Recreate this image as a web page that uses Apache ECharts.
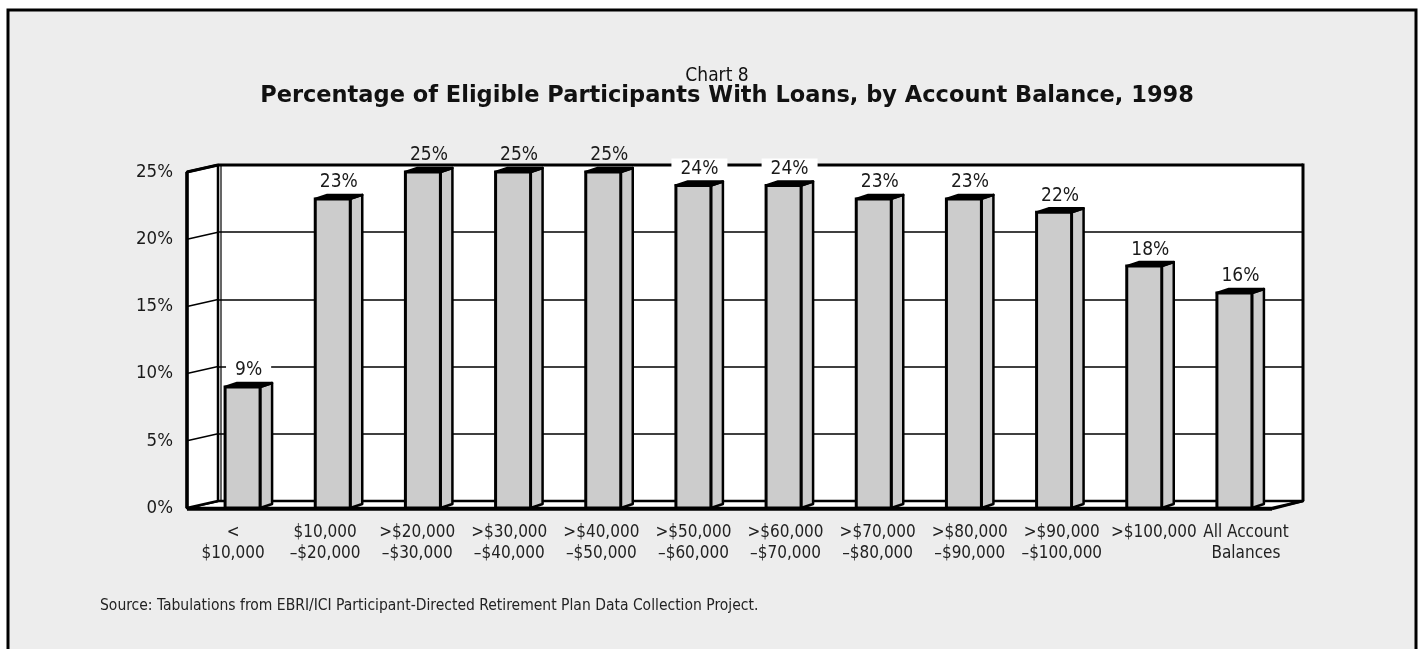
<!DOCTYPE html>
<html>
<head>
<meta charset="utf-8">
<script src="https://cdn.jsdelivr.net/npm/echarts@6/dist/echarts.min.js"></script>
<style>
html,body{margin:0;padding:0;background:#fff;}
#chart{width:1421px;height:649px;}
</style>
</head>
<body>
<div id="chart"></div>
<script>
// ---- data ----
const categories = [
  '<\n$10,000',
  '$10,000\n\u2013$20,000',
  '>$20,000\n\u2013$30,000',
  '>$30,000\n\u2013$40,000',
  '>$40,000\n\u2013$50,000',
  '>$50,000\n\u2013$60,000',
  '>$60,000\n\u2013$70,000',
  '>$70,000\n\u2013$80,000',
  '>$80,000\n\u2013$90,000',
  '>$90,000\n\u2013$100,000',
  '>$100,000',
  'All Account\nBalances'
];
const values = [9, 23, 25, 25, 25, 24, 24, 23, 23, 22, 18, 16];
const yTicks = [0, 5, 10, 15, 20, 25];
const chartLabel = 'Chart 8';
const chartTitle = 'Percentage of Eligible Participants With Loans, by Account Balance, 1998';
const sourceText = 'Source: Tabulations from EBRI/ICI Participant-Directed Retirement Plan Data Collection Project.';

// ---- layout ----
const NARROW = '"Liberation Sans Narrow", "DejaVu Sans Condensed", "Arial Narrow", sans-serif';
const FRONT = {left: 187, top: 172, width: 1082, height: 336};
const LABELS = {left: 187, top: 172, width: 1105, height: 336};
const BACK = {left: 218, top: 165, width: 1085, height: 336};
const yMin = yTicks[0], yMax = yTicks[yTicks.length - 1], yStep = yTicks[1] - yTicks[0];

const chart = echarts.init(document.getElementById('chart'), null, {renderer: 'canvas'});

const option = {
  backgroundColor: '#ffffff',
  animation: false,
  title: [
    {text: chartLabel, left: 712, top: 62, textAlign: 'center',
     textStyle: {fontFamily: NARROW, fontSize: 19, fontWeight: 'normal', color: '#111'}},
    {text: chartTitle, left: 722, top: 80, textAlign: 'center',
     textStyle: {fontFamily: '"DejaVu Sans", Verdana, sans-serif', fontSize: 22.5, fontWeight: 'bold', color: '#111'}},
    {text: sourceText, left: 95, top: 593,
     textStyle: {fontFamily: NARROW, fontSize: 15.5, fontWeight: 'normal', color: '#222'}}
  ],
  grid: [
    Object.assign({show: true, backgroundColor: '#ffffff', borderWidth: 0, containLabel: false}, BACK),
    Object.assign({show: false, containLabel: false}, FRONT),
    Object.assign({show: false, containLabel: false}, LABELS)
  ],
  xAxis: [
    {type: 'category', gridIndex: 0, data: categories, show: false},
    {type: 'category', gridIndex: 1, data: categories, show: false},
    {type: 'category', gridIndex: 2, data: categories,
     axisLine: {show: false}, axisTick: {show: false}, splitLine: {show: false},
     axisLabel: {interval: 0, margin: 14, fontFamily: NARROW, fontSize: 17, lineHeight: 21, color: '#222'}}
  ],
  yAxis: [
    {type: 'value', gridIndex: 0, min: yMin, max: yMax, interval: yStep,
     axisLine: {show: false}, axisTick: {show: false}, axisLabel: {show: false},
     splitLine: {show: true, lineStyle: {color: '#000', width: 1.5}}},
    {type: 'value', gridIndex: 1, min: yMin, max: yMax, interval: yStep,
     axisLine: {show: false}, axisTick: {show: false}, splitLine: {show: false},
     axisLabel: {formatter: '{value}%', margin: 14, fontFamily: NARROW, fontSize: 18.5, color: '#1a1a1a'}},
    {type: 'value', gridIndex: 2, min: yMin, max: yMax, show: false}
  ],
  series: [{
    type: 'custom',
    xAxisIndex: 1,
    yAxisIndex: 1,
    z: 5,
    data: values.map((v, i) => [i, v]),
    renderItem: function (params, api) {
      const v = api.value(1);
      const top = api.coord([api.value(0), v]);
      const base = api.coord([api.value(0), 0]);
      const x0 = top[0] - 7, fw = 35, sw = 12, dy = 4;
      const yT = top[1], yB = base[1];
      const stroke = '#000';
      return {
        type: 'group',
        children: [
          {type: 'polygon', z2: 1,
           shape: {points: [[x0 + fw, yT], [x0 + fw + sw, yT - dy], [x0 + fw + sw, yB - dy], [x0 + fw, yB]]},
           style: {fill: '#cccccc', stroke: stroke, lineWidth: 2.5, lineJoin: 'round'}},
          {type: 'polygon', z2: 2,
           shape: {points: [[x0, yT], [x0 + sw, yT - dy], [x0 + fw + sw, yT - dy], [x0 + fw, yT]]},
           style: {fill: '#000', stroke: stroke, lineWidth: 2.5, lineJoin: 'round'}},
          {type: 'rect', z2: 3,
           shape: {x: x0, y: yT, width: fw, height: yB - yT},
           style: {fill: '#cccccc', stroke: stroke, lineWidth: 3}},
          {type: 'text', z2: 10,
           style: {
             text: v + '%', x: x0 + (fw + sw) / 2, y: yT - dy - 2,
             align: 'center', verticalAlign: 'bottom',
             fontFamily: NARROW, fontSize: 19, fill: '#1a1a1a',
             backgroundColor: v < yMax ? '#ffffff' : 'transparent',
             padding: [1, 9, 1, 9]
           }}
        ]
      };
    }
  }]
};
chart.setOption(option);

// ---- decorations: frame, walls and floor, positioned through the axes ----
const yF = v => chart.convertToPixel({yAxisIndex: 1}, v);
const yBk = v => chart.convertToPixel({yAxisIndex: 0}, v);
const fL = FRONT.left, fR = FRONT.left + FRONT.width + 3;
const bL = BACK.left, bR = BACK.left + BACK.width;
const els = [];
els.push({type: 'rect', z: -100, silent: true,
  shape: {x: 8, y: 10, width: 1408, height: 660},
  style: {fill: '#ededed', stroke: '#000', lineWidth: 3}});
// floor
els.push({type: 'polygon', z: 1,
  shape: {points: [[fL, yF(0)], [bL, yBk(0)], [bR, yBk(0)], [fR, yF(0)]]},
  style: {fill: '#fff', stroke: '#000', lineWidth: 2.5, lineJoin: 'round'}});
// left wall
els.push({type: 'polygon', z: 1,
  shape: {points: [[fL, yF(yMax)], [bL, yBk(yMax)], [bL, yBk(0)], [fL, yF(0)]]},
  style: {fill: '#fff', stroke: '#000', lineWidth: 2.5, lineJoin: 'round'}});
yTicks.forEach(t => {
  if (t > yMin && t < yMax) {
    els.push({type: 'line', z: 2, shape: {x1: fL, y1: yF(t), x2: bL, y2: yBk(t)},
      style: {stroke: '#000', lineWidth: 1.5}});
  }
});
els.push({type: 'line', z: 2, shape: {x1: fL, y1: yF(yMax), x2: fL, y2: yF(0)}, style: {stroke: '#000', lineWidth: 3.5}});
els.push({type: 'line', z: 2, shape: {x1: fL, y1: yF(yMax), x2: bL, y2: yBk(yMax)}, style: {stroke: '#000', lineWidth: 3}});
els.push({type: 'line', z: 2, shape: {x1: bL + 3, y1: yBk(yMax), x2: bL + 3, y2: yBk(0)}, style: {stroke: '#000', lineWidth: 1.2}});
// back wall borders
els.push({type: 'line', z: 2, shape: {x1: bL, y1: yBk(yMax), x2: bR, y2: yBk(yMax)}, style: {stroke: '#000', lineWidth: 3}});
els.push({type: 'line', z: 2, shape: {x1: bR, y1: yBk(yMax) - 1.5, x2: bR, y2: yBk(0)}, style: {stroke: '#000', lineWidth: 3}});
// floor front edge
els.push({type: 'line', z: 6, shape: {x1: fL, y1: yF(0) + 1, x2: fR, y2: yF(0) + 1}, style: {stroke: '#000', lineWidth: 3.5}});
els.push({type: 'line', z: 6, shape: {x1: fR, y1: yF(0) + 1, x2: bR, y2: yBk(0)}, style: {stroke: '#000', lineWidth: 2.5}});
chart.setOption({graphic: {elements: els}});
</script>
</body>
</html>
